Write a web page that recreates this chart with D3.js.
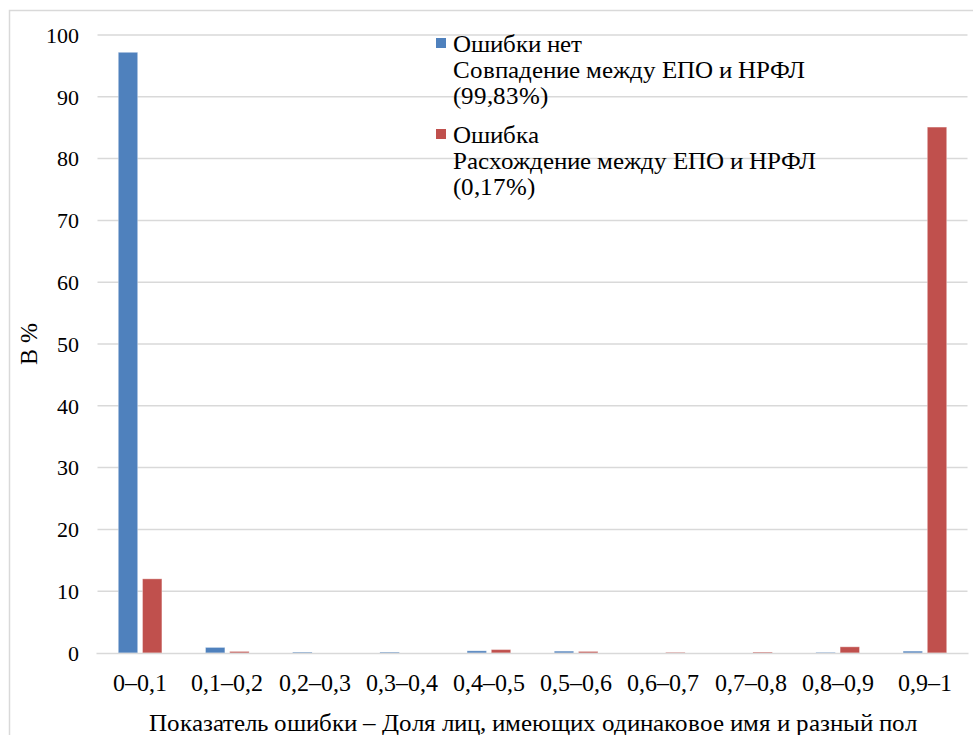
<!DOCTYPE html>
<html><head><meta charset="utf-8">
<script src="https://cdn.jsdelivr.net/npm/d3@7/dist/d3.min.js"></script>
<style>
@font-face{font-family:"ChartSerif";src:local("Liberation Serif"),local("LiberationSerif"),local("LiberationSerif-Regular");}
</style>
</head>
<body style="margin:0"><svg id="c" width="973" height="735"></svg>
<script>
const categories = ["0–0,1","0,1–0,2","0,2–0,3","0,3–0,4","0,4–0,5","0,5–0,6","0,6–0,7","0,7–0,8","0,8–0,9","0,9–1"];
const seriesNames = ["noError","error"];
const noErrorValues = [97.2, 0.9, 0.15, 0.15, 0.35, 0.3, 0, 0, 0.1, 0.3];
const errorValues = [12.0, 0.25, 0, 0, 0.55, 0.25, 0.1, 0.15, 1.0, 85.1];
const yTicks = [0,10,20,30,40,50,60,70,80,90,100];
const legendLines = [
  ["Ошибки нет","Совпадение между ЕПО и НРФЛ","(99,83%)"],
  ["Ошибка","Расхождение между ЕПО и НРФЛ","(0,17%)"]
];
const colors = {noError:"#4F81BD", error:"#C0504D"};
const axisTitleX = "Показатель ошибки – Доля лиц, имеющих одинаковое имя и разный пол";
const axisTitleY = "В %";

(function(){
const FONT = "ChartSerif, 'Liberation Serif', serif";
const svg = d3.select("#c");
svg.append("rect").attr("x",9.5).attr("y",10.5).attr("width",980).attr("height",740)
  .attr("fill","none").attr("stroke","#d9d9d9").attr("stroke-width",1.5);

const pL=96.5, pR=968.5, pT=35, pB=653;
const x = d3.scaleBand().domain(categories).range([pL,pR]);
const x1 = d3.scaleBand().domain(seriesNames).range([0, x.bandwidth()]).paddingInner(0.2).paddingOuter(0.9);
const y = d3.scaleLinear().domain([0,100]).range([pB,pT]);

svg.append("g").selectAll("line").data(yTicks.filter(d=>d>0)).join("line")
  .attr("x1",pL+1).attr("x2",pR-1).attr("y1",d=>y(d)).attr("y2",d=>y(d))
  .attr("stroke","#d9d9d9").attr("stroke-width",1.5);

yTicks.forEach(d=>{
  svg.append("text").attr("x",79).attr("y",y(d)).attr("dy","0.35em").attr("text-anchor","end")
    .attr("font-size",22).style("font-family",FONT).text(d);
});

const data = categories.map((c,i)=>({cat:c, noError:noErrorValues[i], error:errorValues[i]}));
svg.append("g").selectAll("g").data(data).join("g").attr("transform",d=>`translate(${x(d.cat)},0)`)
  .selectAll("rect").data(d=>seriesNames.map(k=>({k, v:d[k]}))).join("rect")
  .attr("x",d=>x1(d.k)).attr("width",x1.bandwidth())
  .attr("y",d=>y(d.v)).attr("height",d=>pB-y(d.v))
  .attr("fill",d=>colors[d.k])
  .attr("stroke",d=>d.v>0?"rgba(255,255,255,0.35)":"none").attr("stroke-width",1);

svg.append("line").attr("x1",pL).attr("x2",pR).attr("y1",pB+0.5).attr("y2",pB+0.5)
  .attr("stroke","#d9d9d9").attr("stroke-width",1.5);

categories.forEach(c=>{
  svg.append("text").attr("x",x(c)+x.bandwidth()/2).attr("y",691).attr("text-anchor","middle")
    .attr("font-size",24).style("font-family",FONT).text(c);
});

svg.append("text").attr("x",533).attr("y",731).attr("text-anchor","middle").attr("font-size",25).style("font-family",FONT).text(axisTitleX);
svg.append("text").attr("transform","translate(37,344) rotate(-90)").attr("text-anchor","middle").attr("font-size",24).style("font-family",FONT).text(axisTitleY);

legendLines.forEach((lines,i)=>{
  const y0 = 52 + i*91;
  svg.append("rect").attr("x",436).attr("y",y0-14).attr("width",10).attr("height",10).attr("fill",colors[seriesNames[i]]);
  lines.forEach((t,j)=>{
    svg.append("text").attr("x",453).attr("y",y0+j*26).attr("font-size",25).style("font-family",FONT).text(t);
  });
});
})();
</script></body></html>
